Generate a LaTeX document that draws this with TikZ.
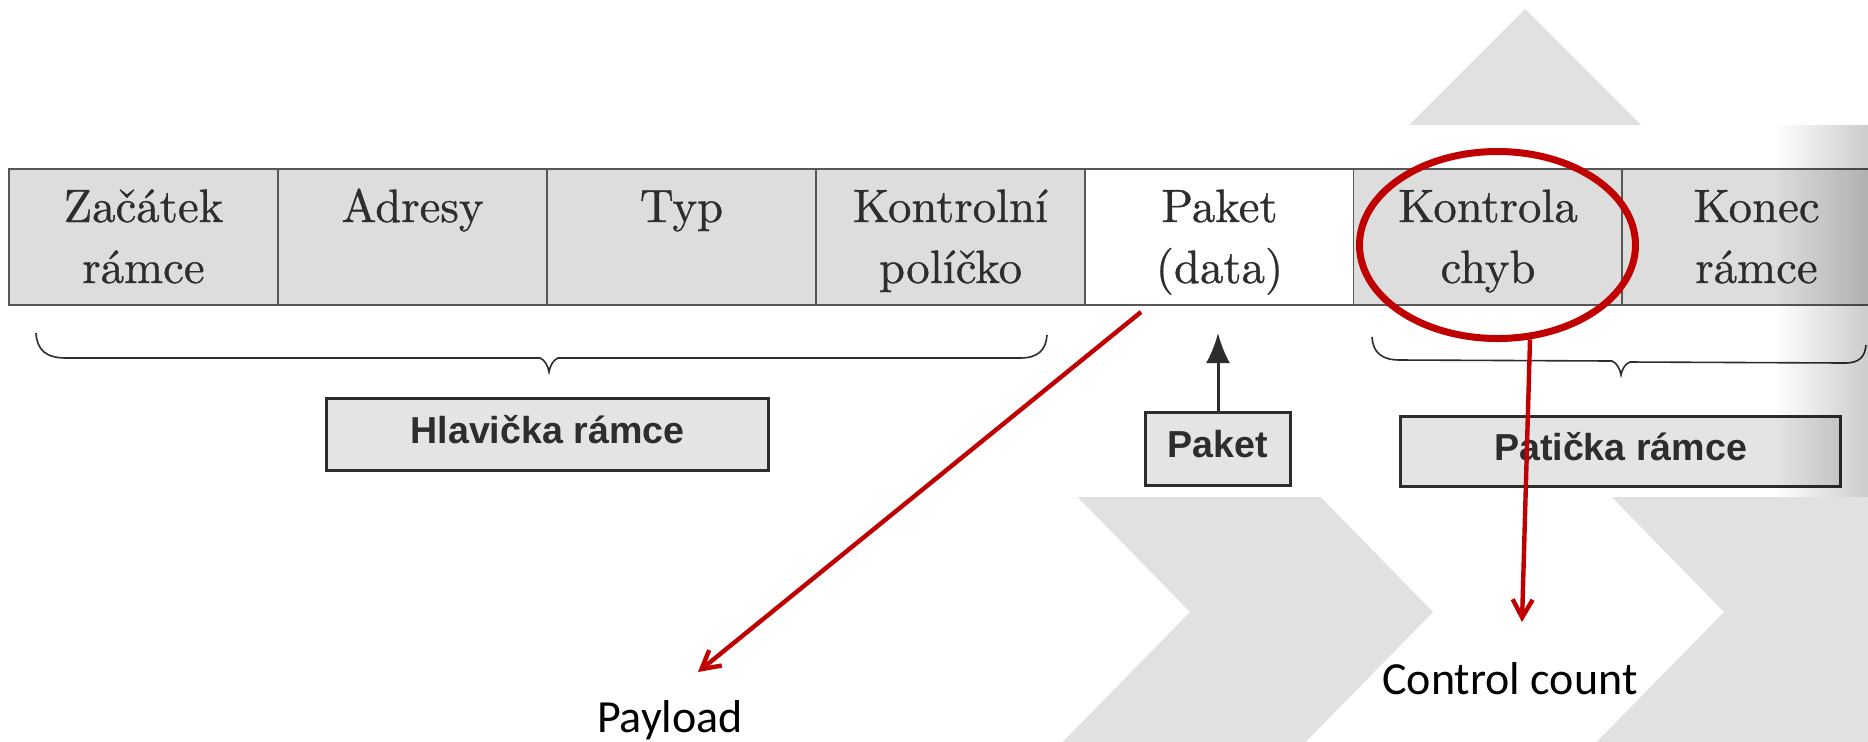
\documentclass[tikz,border=0pt]{standalone}
\usepackage{fontspec}
\usetikzlibrary{arrows.meta,shapes.geometric,fadings}
\newfontfamily\boxfont{Liberation Sans}
\newfontfamily\calfont{Carlito}
\newfontfamily\cellfont{lmroman10-regular.otf}[FakeBold=0.7]
\definecolor{chev}{RGB}{224,225,224}
\definecolor{cellgray}{RGB}{221,221,221}
\definecolor{boxgray}{RGB}{228,228,228}
\definecolor{ink}{RGB}{45,45,45}
\definecolor{pptred}{RGB}{192,0,0}
\tikzfading[name=fadeleft, left color=transparent!100, right color=transparent!0]
\begin{document}
\begin{tikzpicture}[x=0.5pt,y=-0.5pt,
 cell/.style={draw=ink!80, line width=0.8pt, fill=cellgray, minimum width=134.5pt, minimum height=68pt, inner sep=0pt},
 celltxt/.style={anchor=base, font=\cellfont\fontsize{23.4}{28}\selectfont, text=ink, inner sep=0pt},
 lblbox/.style={draw=ink, line width=1.6pt, fill=boxgray, inner sep=0pt, font=\boxfont\bfseries\fontsize{18.8}{22}\selectfont, text=ink, text height=14pt, text depth=5.5pt},
 redarrow/.style={draw=pptred, line width=2.2pt, -{Straight Barb[length=9pt,width=10pt]}},
 caption/.style={anchor=base, font=\calfont\fontsize{23}{28}\selectfont, inner sep=0pt},
 brace/.style={draw=ink, line width=0.8pt}
]
\useasboundingbox (0,0) rectangle (1868,741);
\clip (0,0) rectangle (1868,741);
\fill[white] (0,0) rectangle (1868,741);
% background chevrons
\fill[chev] (1409,125) -- (1525,9) -- (1641,125) -- cycle;
\fill[chev] (1061,480) -- (1304,480) -- (1433,612) -- (1288,760) -- (1045,760) -- (1190,612) -- cycle;
\fill[chev] (1595,480) -- (1950,480) -- (1950,760) -- (1579,760) -- (1724,612) -- cycle;
% photo area
\fill[white] (0,125) rectangle (1868,497);
% frame cells
\node[cell] (c1) at (143.5,237) {};
\node[cell] (c2) at (412.5,237) {};
\node[cell] (c3) at (681.5,237) {};
\node[cell] (c4) at (950.5,237) {};
\node[cell, fill=white] (c5) at (1219.5,237) {};
\node[cell] (c6) at (1488,237) {};
\node[cell] (c7) at (1756.5,237) {};
\node[celltxt] (t1a) at (143.5,222) {Začátek};
\node[celltxt] (t1b) at (143.5,283) {rámce};
\node[celltxt] (t2a) at (412.5,222) {Adresy};
\node[celltxt] (t3a) at (681.5,222) {Typ};
\node[celltxt] (t4a) at (950.5,222) {Kontrolní};
\node[celltxt] (t4b) at (950.5,283) {políčko};
\node[celltxt] (t5a) at (1219.5,222) {Paket};
\node[celltxt] (t5b) at (1219.5,283) {(data)};
\node[celltxt] (t6a) at (1488,222) {Kontrola};
\node[celltxt] (t6b) at (1488,283) {chyb};
\node[celltxt] (t7a) at (1756.5,222) {Konec};
\node[celltxt] (t7b) at (1756.5,283) {rámce};
% braces
\draw[brace] (36,333) .. controls (37,350) and (46,358) .. (66,358) -- (540,358) .. controls (545,360) and (548,366) .. (549,372) .. controls (550,366) and (553,360) .. (558,358) -- (1020,358) .. controls (1038,358) and (1046,350) .. (1047,335);
\draw[brace] (1372,337) .. controls (1373,353) and (1382,360) .. (1400,360) -- (1612,361) .. controls (1617,363) and (1620,369) .. (1621,375) .. controls (1622,369) and (1625,364) .. (1630,362) -- (1845,363) .. controls (1860,363) and (1865,356) .. (1866,345);
% label boxes
\node[lblbox, minimum width=221pt, minimum height=36pt] (hdr) at (547.5,434.5) {Hlavička rámce};
\node[lblbox, minimum width=72.5pt, minimum height=36.5pt] (pkt) at (1218,449) {Paket};
\node[lblbox, minimum width=220pt, minimum height=35pt] (ftr) at (1620.5,451.5) {Patička rámce};
\coordinate (pktup) at (1218,333);
\draw[draw=ink, line width=1.5pt, -{Latex[length=15pt,width=12pt]}] (pkt.north) -- (pktup);
% scan shadow at right edge
\fill[black, fill opacity=0.2, path fading=fadeleft] (1775,125) rectangle (1868,497);
% red annotations
\node[draw=pptred, line width=3.5pt, ellipse, minimum width=138pt, minimum height=93.5pt, inner sep=0pt] (ell) at (1497.5,245) {};
\coordinate (paystart) at (1141,312);
\coordinate (payend) at (698,672);
\draw[redarrow] (paystart) -- (payend);
\coordinate (ccend) at (1522,622);
\draw[redarrow] (ell.-71) -- (ccend);
\node[caption] (pay) at (670,732) {Payload};
\node[caption] (cc) at (1510,694) {Control count};
\end{tikzpicture}
\end{document}
